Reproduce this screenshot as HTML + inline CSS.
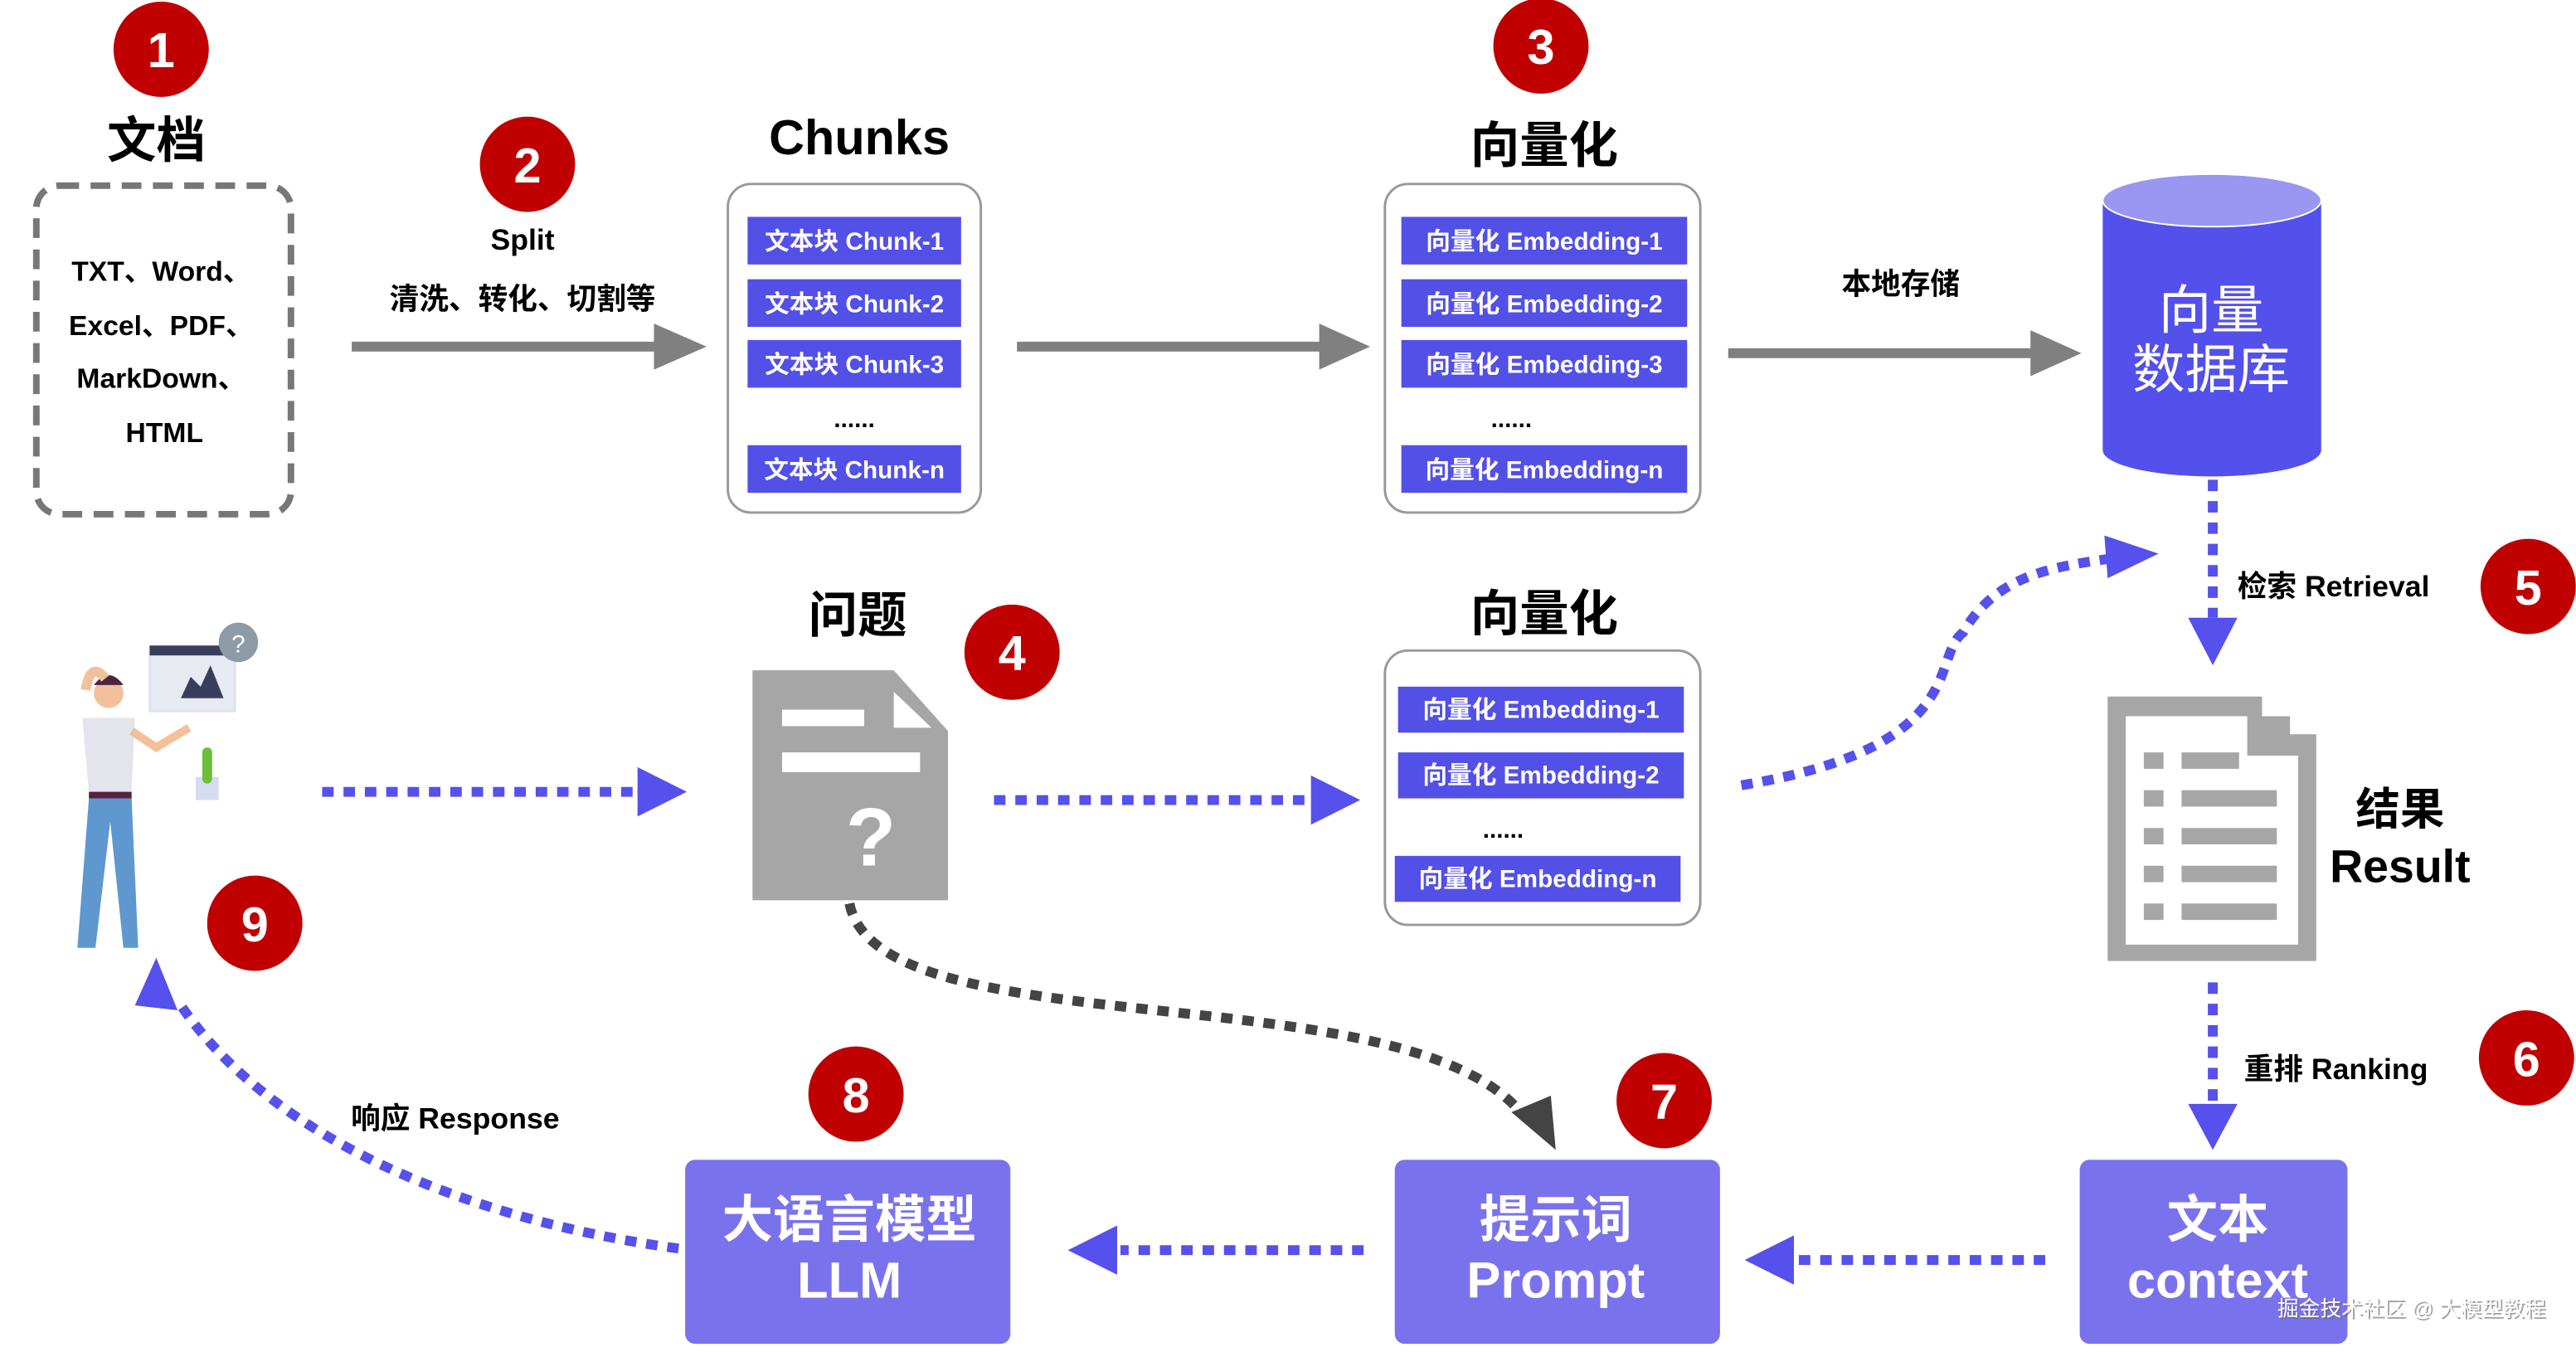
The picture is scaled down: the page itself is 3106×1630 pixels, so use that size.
<!DOCTYPE html>
<html><head><meta charset="utf-8"><style>
html,body{margin:0;padding:0;background:#fff;}
svg{display:block;}
text{font-family:"Liberation Sans","Noto Sans CJK SC",sans-serif;font-weight:bold;}
</style></head><body>
<svg width="3106" height="1630" viewBox="0 0 1568 823" xmlns="http://www.w3.org/2000/svg">
<rect width="1568" height="823" fill="#fff"/>

<g fill="#c00000">
<circle cx="98" cy="30" r="29"/><circle cx="321" cy="100" r="29"/><circle cx="938" cy="28" r="29"/>
<circle cx="616" cy="397" r="29"/><circle cx="1539" cy="357" r="29"/><circle cx="1538" cy="644" r="29"/>
<circle cx="1013" cy="670" r="29"/><circle cx="521" cy="666" r="29"/><circle cx="155" cy="562" r="29"/>
</g>
<g fill="#fff" font-size="30" text-anchor="middle" style="font-weight:normal">
<text x="98" y="41">1</text><text x="321" y="111">2</text><text x="938" y="39">3</text>
<text x="616" y="408">4</text><text x="1539" y="368">5</text><text x="1538" y="655">6</text>
<text x="1013" y="681">7</text><text x="521" y="677">8</text><text x="155" y="573">9</text>
</g>

<text x="95" y="96" font-size="30" text-anchor="middle">文档</text>
<rect x="22" y="113" width="155" height="200" rx="14" fill="none" stroke="#777" stroke-width="4" stroke-dasharray="12 7"/>
<g font-size="17" text-anchor="middle">
<text x="98" y="171">TXT、Word、</text><text x="98" y="204">Excel、PDF、</text>
<text x="98" y="236">MarkDown、</text><text x="100" y="269">HTML</text>
</g>
<text x="318" y="152" font-size="18" text-anchor="middle">Split</text>
<text x="318" y="188" font-size="18" text-anchor="middle">清洗、转化、切割等</text>

<g fill="#808080">
<rect x="214" y="208" width="186" height="6"/><path d="M398,197 L430,211 L398,225Z"/>
<rect x="619" y="208" width="186" height="6"/><path d="M803,197 L834,211 L803,225Z"/>
<rect x="1052" y="212" width="186" height="6"/><path d="M1236,201 L1267,215 L1236,229Z"/>
</g>
<text x="1157" y="179" font-size="18" text-anchor="middle">本地存储</text>

<text x="523" y="94" font-size="30" text-anchor="middle">Chunks</text>
<rect x="443" y="112" width="154" height="200" rx="14" fill="none" stroke="#999" stroke-width="1.5"/>
<g fill="#5350e8">
<rect x="455" y="132" width="130" height="29"/><rect x="455" y="170" width="130" height="29"/>
<rect x="455" y="207" width="130" height="29"/><rect x="455" y="271" width="130" height="29"/>
</g>
<g fill="#fff" font-size="15" text-anchor="middle" style="font-weight:normal">
<text x="520" y="152">文本块 Chunk-1</text><text x="520" y="190">文本块 Chunk-2</text>
<text x="520" y="227">文本块 Chunk-3</text><text x="520" y="291">文本块 Chunk-n</text>
</g>
<text x="520" y="260" font-size="15" text-anchor="middle">......</text>

<text x="940" y="99" font-size="30" text-anchor="middle">向量化</text>
<rect x="843" y="112" width="192" height="200" rx="14" fill="none" stroke="#999" stroke-width="1.5"/>
<g fill="#5350e8">
<rect x="853" y="132" width="174" height="29"/><rect x="853" y="170" width="174" height="29"/>
<rect x="853" y="207" width="174" height="29"/><rect x="853" y="271" width="174" height="29"/>
</g>
<g fill="#fff" font-size="15" text-anchor="middle" style="font-weight:normal">
<text x="940" y="152">向量化 Embedding-1</text><text x="940" y="190">向量化 Embedding-2</text>
<text x="940" y="227">向量化 Embedding-3</text><text x="940" y="291">向量化 Embedding-n</text>
</g>
<text x="920" y="260" font-size="15" text-anchor="middle">......</text>

<path d="M1280,122 L1280,274 A66.5,16 0 0 0 1413,274 L1413,122 Z" fill="#5350ec"/>
<ellipse cx="1346.5" cy="122" rx="66.5" ry="16" fill="#9a96f2" stroke="#fff" stroke-width="1"/>
<text x="1346" y="200" font-size="32" fill="#fff" text-anchor="middle" style="font-weight:normal">向量</text>
<text x="1346" y="236" font-size="32" fill="#fff" text-anchor="middle" style="font-weight:normal">数据库</text>

<g stroke="#5650ec" stroke-width="6" stroke-dasharray="7 6" fill="none">
<line x1="1347" y1="292" x2="1347" y2="376"/>
<line x1="1347" y1="598" x2="1347" y2="672"/>
<line x1="1245" y1="767" x2="1094" y2="767"/>
<line x1="830" y1="761" x2="682" y2="761"/>
<line x1="196" y1="482" x2="388" y2="482"/>
<line x1="605" y1="487" x2="798" y2="487"/>
<path d="M1060,478 C1200,455 1175,400 1195,385 C1215,350 1250,345 1285,340"/>
<path d="M413,760 C300,745 170,700 110,612"/>
</g>
<g fill="#5650ec">
<path d="M1332,376 L1362,376 L1347,405Z"/>
<path d="M1332,672 L1362,672 L1347,700Z"/>
<path d="M1092,752 L1092,782 L1062,767Z"/>
<path d="M680,746 L680,776 L650,761Z"/>
<path d="M388,467 L418,482 L388,497Z"/>
<path d="M798,472 L828,487 L798,502Z"/>
<path d="M1281,326 L1314,337 L1283,352Z"/>
<path d="M95,583 L108,615 L82,612Z"/>
</g>
<text x="1362" y="363" font-size="18">检索 Retrieval</text>
<text x="1366" y="657" font-size="18">重排 Ranking</text>
<text x="277" y="687" font-size="18" text-anchor="middle">响应 Response</text>

<path d="M517,550 C535,640 860,590 928,680" fill="none" stroke="#444" stroke-width="6" stroke-dasharray="7 6"/>
<path d="M920,677 L944,667 L947,700Z" fill="#444"/>

<path d="M1283,424 L1377,424 L1377,436 L1394,436 L1394,447 L1410,447 L1410,585 L1283,585Z" fill="#a6a6a6"/>
<path d="M1294,436 L1368,436 L1368,460 L1399,460 L1399,575 L1294,575Z" fill="#fff"/>
<g fill="#a6a6a6">
<rect x="1305" y="458" width="12" height="10"/><rect x="1328" y="458" width="35" height="10"/>
<rect x="1305" y="481" width="12" height="10"/><rect x="1328" y="481" width="58" height="10"/>
<rect x="1305" y="504" width="12" height="10"/><rect x="1328" y="504" width="58" height="10"/>
<rect x="1305" y="527" width="12" height="10"/><rect x="1328" y="527" width="58" height="10"/>
<rect x="1305" y="550" width="12" height="10"/><rect x="1328" y="550" width="58" height="10"/>
</g>
<text x="1461" y="502" font-size="27" text-anchor="middle">结果</text>
<text x="1461" y="537" font-size="28" text-anchor="middle">Result</text>

<text x="522" y="385" font-size="30" text-anchor="middle">问题</text>
<path d="M458,408 L544,408 L577,445 L577,548 L458,548Z" fill="#a6a6a6"/>
<path d="M544,421 L567,443 L544,443Z" fill="#fff"/>
<rect x="476" y="432" width="50" height="10" fill="#fff"/>
<rect x="476" y="458" width="84" height="12" fill="#fff"/>
<text x="530" y="527" font-size="50" fill="#fff" text-anchor="middle">?</text>

<text x="940" y="384" font-size="30" text-anchor="middle">向量化</text>
<rect x="843" y="396" width="192" height="167" rx="14" fill="none" stroke="#999" stroke-width="1.5"/>
<g fill="#5350e8">
<rect x="851" y="418" width="174" height="28"/><rect x="851" y="458" width="174" height="28"/>
<rect x="849" y="521" width="174" height="28"/>
</g>
<g fill="#fff" font-size="15" text-anchor="middle" style="font-weight:normal">
<text x="938" y="437">向量化 Embedding-1</text><text x="938" y="477">向量化 Embedding-2</text>
<text x="936" y="540">向量化 Embedding-n</text>
</g>
<text x="915" y="510" font-size="15" text-anchor="middle">......</text>

<g fill="#7a72ec">
<rect x="1266" y="706" width="163" height="112" rx="6"/>
<rect x="849" y="706" width="198" height="112" rx="6"/>
<rect x="417" y="706" width="198" height="112" rx="6"/>
</g>
<g fill="#fff" font-size="31" text-anchor="middle">
<text x="1350" y="753">文本</text><text x="1350" y="790">context</text>
<text x="947" y="753">提示词</text><text x="947" y="790">Prompt</text>
<text x="517" y="753">大语言模型</text><text x="517" y="790">LLM</text>
</g>
<text x="1469" y="802" font-size="13" fill="#666" text-anchor="middle" style="font-weight:normal" opacity="0.6">掘金技术社区 @ 大模型教程</text>
<text x="1468" y="801" font-size="13" fill="#fff" text-anchor="middle" style="font-weight:normal">掘金技术社区 @ 大模型教程</text>

<g>
<rect x="91" y="393" width="52" height="40" fill="#e8eaf2" stroke="#dde" />
<rect x="91" y="393" width="52" height="6" fill="#3a3d5c"/>
<path d="M110,425 L116,412 L122,418 L128,405 L136,425Z" fill="#3a3d5c"/>
<circle cx="145" cy="391" r="12" fill="#8e9aa6"/>
<text x="145" y="397" font-size="15" fill="#fff" text-anchor="middle" style="font-weight:normal">?</text>
<circle cx="66" cy="422" r="9" fill="#f2c09a"/>
<path d="M57,417 Q66,405 75,417 Z" fill="#4a2540"/>
<path d="M52,420 Q55,402 64,413" stroke="#f2c09a" stroke-width="6" fill="none"/>
<path d="M50,437 L82,437 L80,482 L54,482Z" fill="#e4e4ec"/>
<path d="M80,445 L95,455 L115,443" stroke="#f2c09a" stroke-width="5" fill="none"/>
<rect x="54" y="482" width="26" height="4" fill="#5a2040"/>
<path d="M54,486 L80,486 L84,577 L75,577 L67,500 L58,577 L47,577Z" fill="#5e98cf"/>
<rect x="119" y="473" width="14" height="14" fill="#d4dcef"/>
<rect x="123" y="455" width="6" height="22" rx="3" fill="#6cbf3a"/>
</g>
</svg>
</body></html>
